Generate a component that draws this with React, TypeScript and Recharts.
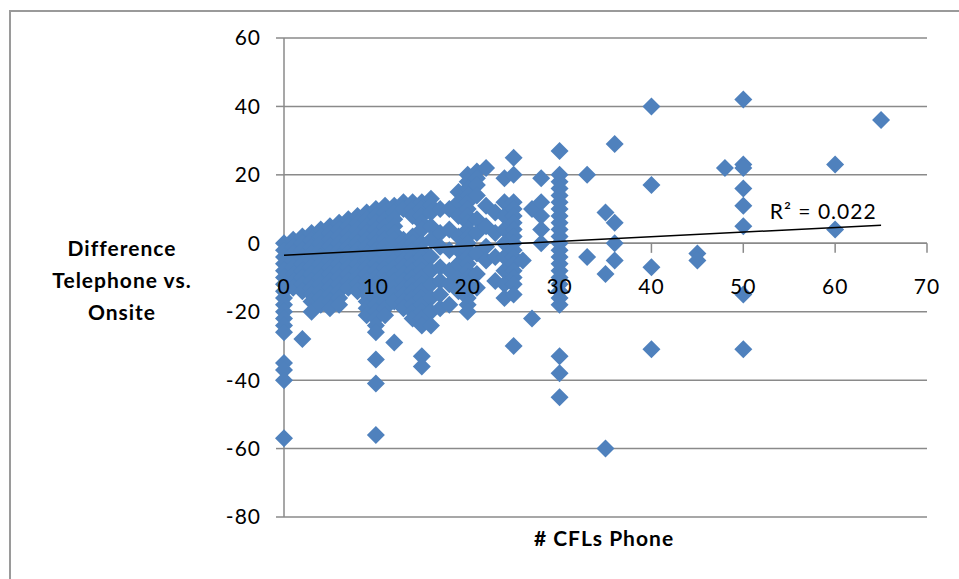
import {
  ScatterChart,
  Scatter,
  XAxis,
  YAxis,
  CartesianGrid,
  ReferenceLine,
  ReferenceDot,
} from "recharts";

// # CFLs reported by phone, and the phone-vs-onsite differences seen at each count
const phoneCounts = [
  0, 1, 2, 3, 4, 5, 6, 7, 8, 9, 10, 11, 12, 13, 14, 15, 16, 17, 18, 19, 20,
  21, 22, 23, 24, 25, 26, 27, 28, 30, 33, 35, 36, 40, 45, 48, 50, 60, 65,
];

const differences = [
  [0, -2, -4, -6, -8, -10, -12, -14, -16, -18, -20, -22, -24, -26, -35, -37, -40, -57],
  [1, -1, -3, -5, -7, -9, -11, -13],
  [2, 0, -2, -4, -6, -8, -10, -12, -14, -28],
  [3, 1, -1, -3, -5, -7, -9, -11, -13, -15, -17, -20],
  [4, 2, 0, -2, -4, -6, -8, -10, -12, -14, -16, -18],
  [5, 3, 1, -1, -3, -5, -7, -9, -11, -13, -15, -17, -19],
  [6, 4, 2, 0, -2, -4, -6, -8, -10, -12, -14, -16, -18],
  [7, 5, 3, 1, -1, -3, -5, -7, -9, -11, -13],
  [8, 6, 4, 2, 0, -2, -4, -6, -8, -10, -12, -14],
  [9, 7, 5, 3, 1, -1, -3, -5, -7, -9, -11, -13, -15, -17, -19, -21],
  [10, 8, 6, 4, 2, 0, -2, -4, -6, -8, -10, -12, -14, -16, -18, -20, -22, -24, -26, -34, -41, -56],
  [11, 9, 7, 5, 3, 1, -1, -3, -5, -7, -9, -11, -13, -15, -17, -19, -21],
  [11, 9, 7, 5, 3, 1, -1, -3, -5, -7, -9, -11, -13, -15, -17, -29],
  [12, 10, 1, -1, -3, -5, -7, -9, -11, -13, -15, -17, -19],
  [12, 10, 8, 2, 0, -2, -4, -6, -8, -10, -12, -14, -16, -18, -20, -22],
  [12, 10, 8, 6, 4, 0, -2, -4, -6, -8, -10, -12, -14, -16, -18, -20, -22, -24, -33, -36],
  [13, 11, 9, 5, 1, -4, -8, -12, -16, -20, -24],
  [10, 3, -1, -7, -11, -15, -19],
  [10, 4, -2, -8, -12, -18],
  [15, 12, 8, 2, -2, -6, -10, -14],
  [20, 18, 16, 14, 12, 10, 8, 6, 4, 2, 0, -2, -4, -6, -8, -10, -12, -14, -16, -18, -20],
  [21, 19, 17, 14, 7, 3, -3, -9, -13],
  [22, 11, 5, -1, -5],
  [9, 3, -4, -11],
  [19, 12, 8, 4, 0, -4, -8, -12, -16],
  [25, 20, 12, 10, 8, 6, 4, 2, 0, -2, -4, -6, -8, -10, -12, -15, -30],
  [-5],
  [10, -22],
  [19, 12, 8, 4, 0],
  [27, 20, 18, 16, 14, 12, 10, 8, 6, 4, 2, 0, -2, -4, -6, -8, -10, -12, -14, -16, -18, -33, -38, -45],
  [20, -4],
  [9, -9, -60],
  [29, 6, 0, -5],
  [40, 17, -7, -31],
  [-3, -5],
  [22],
  [42, 23, 22, 16, 11, 5, -15, -31],
  [23, 4],
  [36],
];

// linear trend line
const trendX = [0, 65];
const trendY = [-3.5, 5.3];

const xTicks = [0, 10, 20, 30, 40, 50, 60, 70];
const yTicks = [-80, -60, -40, -20, 0, 20, 40, 60];

const points = phoneCounts.flatMap((x, i) =>
  differences[i].map((y) => ({ x, y }))
);
const trend = trendX.map((x, i) => ({ x, y: trendY[i] }));

const FONT = "Lato, 'Open Sans', sans-serif";
const GRID = "#8a8a8a";

const textStyle = {
  fill: "#000",
  fontSize: 21,
  fontFamily: FONT,
  letterSpacing: 1,
};

const Diamond = (props: any) => {
  const { cx, cy } = props;
  const h = 9;
  return (
    <polygon
      points={`${cx},${cy - h} ${cx + h},${cy} ${cx},${cy + h} ${cx - h},${cy}`}
      fill="#4F81BD"
    />
  );
};

const titleStyle: React.CSSProperties = {
  position: "absolute",
  textAlign: "center",
  fontFamily: FONT,
  fontWeight: "bold",
  fontSize: 21,
  letterSpacing: 1,
  lineHeight: "32px",
  color: "#000",
};

export default function App() {
  return (
    <div
      style={{
        position: "absolute",
        left: 0,
        top: 0,
        width: 959,
        height: 579,
        overflow: "hidden",
        background: "#fff",
      }}
    >
      <div
        style={{
          position: "absolute",
          left: 9,
          top: 10,
          width: 980,
          height: 600,
          borderLeft: "2px solid #9a9a9a",
          borderTop: "2px solid #9a9a9a",
        }}
      />
      <div style={{ position: "absolute", left: 0, top: 0 }}>
        <ScatterChart
          width={959}
          height={579}
          margin={{ top: 38, right: 32, bottom: 62, left: 0 }}
        >
          <CartesianGrid vertical={false} stroke={GRID} strokeWidth={1.5} />
          <XAxis
            type="number"
            dataKey="x"
            domain={[0, 70]}
            ticks={xTicks}
            hide
          />
          <YAxis
            type="number"
            dataKey="y"
            domain={[-80, 60]}
            ticks={yTicks}
            width={284}
            tickSize={8}
            tickMargin={15}
            axisLine={{ stroke: GRID, strokeWidth: 1.5 }}
            tickLine={{ stroke: GRID, strokeWidth: 1.5 }}
            tick={textStyle}
          />
          <ReferenceLine y={0} stroke={GRID} strokeWidth={1.5} />
          {xTicks.slice(1).map((t) => (
            <ReferenceLine
              key={`tk${t}`}
              segment={[
                { x: t, y: 0 },
                { x: t, y: -2.8 },
              ]}
              stroke={GRID}
              strokeWidth={1.5}
            />
          ))}
          <Scatter data={points} shape={Diamond} isAnimationActive={false} />
          <Scatter
            data={trend}
            line={{ stroke: "#000", strokeWidth: 1.5 }}
            shape={() => <g />}
            isAnimationActive={false}
          />
          {xTicks.map((t) => (
            <ReferenceDot
              key={`lb${t}`}
              x={t}
              y={-12.6}
              r={0}
              stroke="none"
              fill="none"
              label={{ value: String(t), position: "center", ...textStyle }}
            />
          ))}
          <ReferenceDot
            x={58.7}
            y={9.4}
            r={0}
            stroke="none"
            fill="none"
            label={{ value: "R² = 0.022", position: "center", ...textStyle }}
          />
        </ScatterChart>
      </div>
      <div style={{ ...titleStyle, left: 22, top: 232, width: 200 }}>
        Difference
        <br />
        Telephone vs.
        <br />
        Onsite
      </div>
      <div style={{ ...titleStyle, left: 454, top: 522, width: 300 }}>
        # CFLs Phone
      </div>
    </div>
  );
}
